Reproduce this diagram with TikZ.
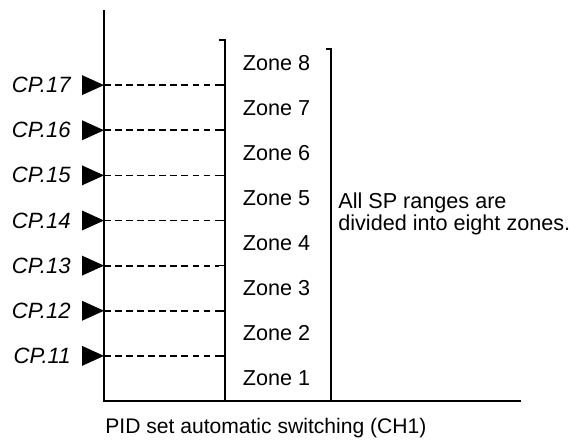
\documentclass[tikz,border=0pt]{standalone}
\usepackage{fontspec}
\setmainfont{Liberation Sans}
\usetikzlibrary{positioning}

\begin{document}
\begin{tikzpicture}[
  x=0.02cm, y=-0.02cm,
  axis/.style={line width=1.1pt},
  zonebr/.style={line width=0.9pt},
  cpline/.style={line width=1pt, dash pattern=on 3.7pt off 2.6pt},
  cplbl/.style={font=\fontsize{12.6}{14}\selectfont\itshape, anchor=east, inner sep=0pt},
  zonelbl/.style={font=\fontsize{12.3}{14}\selectfont, inner sep=0pt},
  note/.style={font=\fontsize{12.3}{11.4}\selectfont, align=left, anchor=west, inner sep=0pt}
]
  \useasboundingbox (0,0) rectangle (569,440);
  \def\dz{45.125}

  % axes
  \coordinate (top) at (104,10);
  \coordinate (org) at (104,401);
  \coordinate (xend) at (521,401);
  \draw[axis] (top) -- (org) -- (xend);

  % eight zones
  \foreach \k in {1,...,8} {
    \pgfmathsetmacro{\ytop}{401-\dz*\k}
    \pgfmathsetmacro{\ybot}{401-\dz*(\k-1)}
    \draw[zonebr] (219,\ytop) -| (225,\ybot) -- (219,\ybot);
    \node[zonelbl] (zone\k) at (276.5,{(\ytop+\ybot)/2}) {Zone \k};
  }

  % switching points
  \foreach \k [evaluate=\k as \n using int(10+\k)] in {1,...,7} {
    \pgfmathsetmacro{\yb}{401-\dz*\k}
    \coordinate (ax\k) at (104,\yb);
    \coordinate (br\k) at (219,\yb);
    \draw[cpline] (ax\k) -- (br\k);
    \fill (ax\k) -- ++(-22,-10) -- ++(0,20) -- cycle;
    \node[cplbl] (cp\n) at (71,\yb) {CP.\n};
  }

  % all zones
  \draw[zonebr] (326,49) -| (331,401) -- (326,401);
  \node[note] (allsp) at (338,213.5) {All SP ranges are\\divided into eight zones.};

  \node[note, font=\fontsize{12}{14}\selectfont] (title) at (105,428) {PID set automatic switching (CH1)};
\end{tikzpicture}
\end{document}
